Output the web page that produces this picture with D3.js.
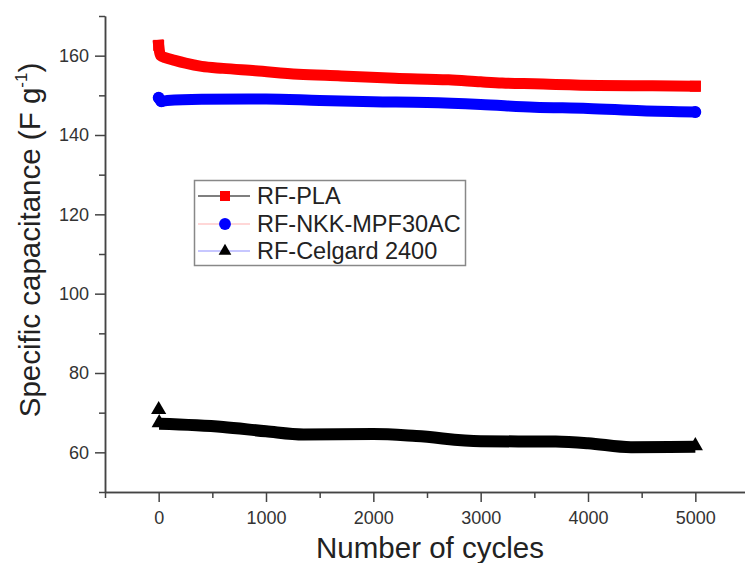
<!DOCTYPE html>
<html>
<head>
<meta charset="utf-8">
<script src="https://cdn.jsdelivr.net/npm/d3@7"></script>
<style>
  html, body { margin: 0; padding: 0; background: #fff; }
  svg { display: block; font-family: Arial, "Liberation Sans", sans-serif; }
</style>
</head>
<body>
<svg id="chart" width="745" height="563"></svg>
<script>
// capacitance retention over 5000 cycles, three separators
const seriesNames = ['RF-PLA', 'RF-NKK-MPF30AC', 'RF-Celgard 2400'];

const plaCycles = [0, 8, 20, 60, 150, 250, 400, 600, 900, 1300, 1700, 2200, 2700, 3000, 3200, 3500, 4100, 4600, 5000];
const plaCap    = [162.6, 161.0, 160.0, 159.5, 158.8, 158.1, 157.3, 156.8, 156.2, 155.3, 154.9, 154.3, 153.9, 153.4, 153.1, 152.9, 152.5, 152.4, 152.3];

const nkkCycles = [0, 25, 80, 400, 1000, 1500, 2000, 2500, 3000, 3500, 4000, 4500, 5000];
const nkkCap    = [149.4, 148.5, 148.7, 149.0, 149.1, 148.7, 148.4, 148.2, 147.7, 147.0, 146.7, 146.1, 145.8];

const celCycles = [0, 5, 600, 1000, 1350, 2000, 2400, 3000, 3700, 4000, 4400, 5000];
const celCap    = [70.5, 67.2, 66.4, 65.3, 64.5, 64.6, 64.1, 62.8, 62.7, 62.3, 61.3, 61.4];

const xMajor = [0, 1000, 2000, 3000, 4000, 5000];
const xMinor = [-500, 500, 1500, 2500, 3500, 4500, 5500];
const yMajor = [60, 80, 100, 120, 140, 160];
const yMinor = [50, 70, 90, 110, 130, 150, 170];

const svg = d3.select('#chart');
const x = d3.scaleLinear().domain([-500, 5500]).range([105, 749]);
const y = d3.scaleLinear().domain([50, 170]).range([492, 16]);

const axisColor = '#444';

function styleAxis(g) {
  g.selectAll('path.domain').attr('stroke', axisColor).attr('stroke-width', 1.5);
  g.selectAll('.tick line').attr('stroke', axisColor).attr('stroke-width', 1.5);
  g.selectAll('.tick text').attr('fill', '#333').attr('font-size', 18);
}

// y axis
svg.append('g').attr('transform', `translate(${x(-500)},0)`)
  .call(d3.axisLeft(y).tickValues(yMinor).tickSize(6).tickFormat('').tickSizeOuter(0))
  .call(styleAxis);
svg.append('g').attr('transform', `translate(${x(-500)},0)`)
  .call(d3.axisLeft(y).tickValues(yMajor).tickSize(10).tickPadding(6).tickFormat(d3.format('d')).tickSizeOuter(0))
  .call(styleAxis);

// x axis
svg.append('g').attr('transform', `translate(0,${y(50)})`)
  .call(d3.axisBottom(x).tickValues(xMinor).tickSize(6).tickFormat('').tickSizeOuter(0))
  .call(styleAxis);
svg.append('g').attr('transform', `translate(0,${y(50)})`)
  .call(d3.axisBottom(x).tickValues(xMajor).tickSize(10).tickPadding(9).tickFormat(d3.format('d')).tickSizeOuter(0))
  .call(styleAxis);

// titles
svg.append('text')
  .attr('x', 430).attr('y', 558)
  .attr('text-anchor', 'middle').attr('font-size', 29.5).attr('fill', '#222')
  .text('Number of cycles');

const yt = svg.append('text')
  .attr('transform', 'translate(40,240) rotate(-90)')
  .attr('text-anchor', 'middle').attr('font-size', 29.5).attr('fill', '#222');
yt.append('tspan').text('Specific capacitance (F g');
yt.append('tspan').attr('font-size', 17).attr('dy', -13).text('-1');
yt.append('tspan').attr('dy', 13).text(')');

// data bands: dense markers in the original, drawn as a thick stroke + markers
const line = d3.line().x(d => x(d[0])).y(d => y(d[1])).curve(d3.curveMonotoneX);

const pla = plaCycles.map((c, i) => [c, plaCap[i]]);
const nkk = nkkCycles.map((c, i) => [c, nkkCap[i]]);
const cel = celCycles.map((c, i) => [c, celCap[i]]);

svg.append('path').datum(pla).attr('d', line)
  .attr('fill', 'none').attr('stroke', '#ff0000').attr('stroke-width', 11).attr('stroke-linecap', 'square');
svg.append('path').datum(nkk).attr('d', line)
  .attr('fill', 'none').attr('stroke', '#0000ff').attr('stroke-width', 11).attr('stroke-linecap', 'round');
// first Celgard reading sits apart from the dense run
svg.append('path').datum(cel.slice(1)).attr('d', line)
  .attr('fill', 'none').attr('stroke', '#000').attr('stroke-width', 12).attr('stroke-linecap', 'butt');

const sq = d3.symbol().type(d3.symbolSquare).size(120);
const ci = d3.symbol().type(d3.symbolCircle).size(110);
const tr = d3.symbol().type(d3.symbolTriangle).size(100);

svg.append('g').selectAll('path').data([pla[0], pla[pla.length - 1]]).join('path')
  .attr('transform', d => `translate(${x(d[0])},${y(d[1])})`).attr('d', sq).attr('fill', '#ff0000');
svg.append('g').selectAll('path').data([nkk[0], nkk[1], nkk[nkk.length - 1]]).join('path')
  .attr('transform', d => `translate(${x(d[0])},${y(d[1])})`).attr('d', ci).attr('fill', '#0000ff');
svg.append('g').selectAll('path').data([cel[0], cel[1], cel[cel.length - 1]]).join('path')
  .attr('transform', d => `translate(${x(d[0])},${y(d[1]) - 1})`).attr('d', tr).attr('fill', '#000');

// legend
const legend = svg.append('g');
legend.append('rect')
  .attr('x', 194.5).attr('y', 180.5).attr('width', 271).attr('height', 85)
  .attr('fill', '#fff').attr('stroke', '#888').attr('stroke-width', 1.5);

const legLine = ['#000', '#ffb0b0', '#9090ff'];
const legFill = ['#ff0000', '#0000ff', '#000'];
const legSym = [d3.symbol().type(d3.symbolSquare).size(100), d3.symbol().type(d3.symbolCircle).size(110), d3.symbol().type(d3.symbolTriangle).size(70)];
const rowY = [196, 224, 251];

seriesNames.forEach((name, i) => {
  legend.append('line')
    .attr('x1', 198).attr('x2', 250).attr('y1', rowY[i]).attr('y2', rowY[i])
    .attr('stroke', legLine[i]).attr('stroke-width', 1.2);
  legend.append('path')
    .attr('transform', `translate(225,${rowY[i]})`).attr('d', legSym[i]).attr('fill', legFill[i]);
  legend.append('text')
    .attr('x', 257).attr('y', rowY[i] + 8)
    .attr('font-size', 23.5).attr('fill', '#222')
    .text(name);
});
</script>
</body>
</html>
